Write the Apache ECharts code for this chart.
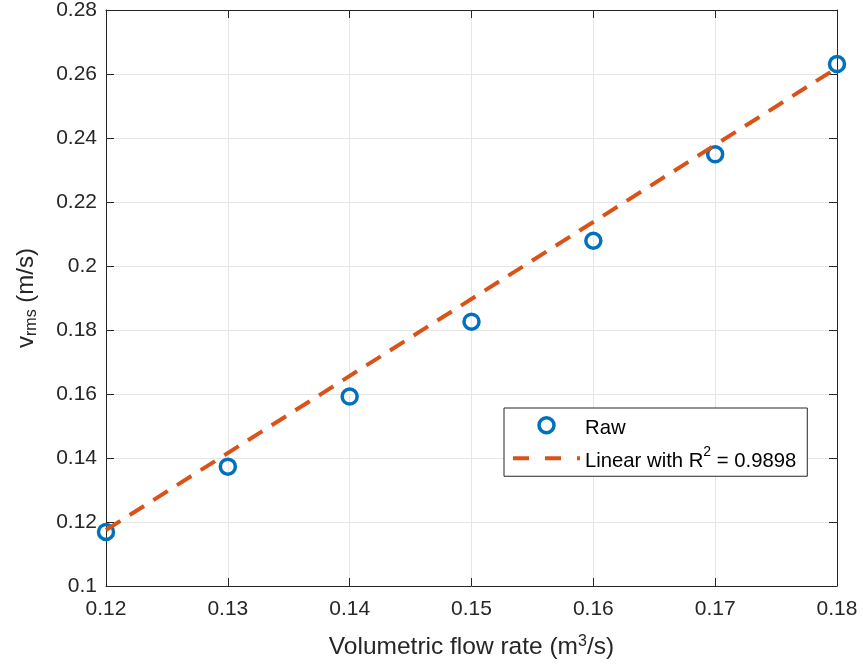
<!DOCTYPE html>
<html>
<head>
<meta charset="utf-8">
<script src="https://cdn.jsdelivr.net/npm/echarts@6/dist/echarts.min.js"></script>
<style>
  html, body { margin: 0; padding: 0; background: #fff; }
  #chart { width: 863px; height: 666px; }
</style>
</head>
<body>
<div id="chart"></div>
<script>
// Measured flow rates (m^3/s) and RMS velocities (m/s)
const flowRate = [0.12, 0.13, 0.14, 0.15, 0.16, 0.17, 0.18];
const vRms = [0.1169, 0.1373, 0.1592, 0.1826, 0.2079, 0.2349, 0.2631];

// End points of the linear fit
const fitX = [0.12, 0.18];
const fitY = [0.1175, 0.2619];

// Legend labels (rich text for the superscript)
const legendNames = ['Raw', 'Linear'];
const legendLabels = ['{a|Raw}', '{a|Linear with R}{sup|2}{a| = 0.9898}'];

const axisColor = '#262626';
const gridColor = '#e6e6e6';
const rawColor = '#0072BD';
const fitColor = '#D95319';
const font = 'Liberation Sans, Arial, Helvetica, sans-serif';

const fmt = v => String(+v.toFixed(2));

const chart = echarts.init(document.getElementById('chart'), null, { renderer: 'canvas' });

const tickCommon = {
  axisLine: { show: true, lineStyle: { color: axisColor, width: 1 } },
  axisTick: { show: true, inside: true, length: 8, lineStyle: { color: axisColor } }
};

chart.setOption({
  animation: false,
  backgroundColor: '#fff',
  grid: { left: 106, right: 26, top: 10, bottom: 80, containLabel: false, outerBoundsMode: 'none' },
  legend: {
    orient: 'vertical',
    left: 504,
    top: 408,
    padding: [8, 11, 3, 7],
    itemGap: 7,
    itemWidth: 67,
    itemHeight: 15,
    backgroundColor: '#fff',
    borderColor: axisColor,
    borderWidth: 1,
    borderRadius: 0,
    data: [
      { name: 'Raw', itemStyle: { color: 'rgba(0,0,0,0)', borderColor: rawColor, borderWidth: 3.5 } },
      { name: 'Linear', itemStyle: { opacity: 0 }, lineStyle: { color: fitColor, width: 4, type: [16, 16] } }
    ],
    formatter: name => legendLabels[legendNames.indexOf(name)],
    textStyle: {
      color: '#000',
      fontFamily: font,
      fontSize: 20,
      rich: {
        a: { fontSize: 20.3, fontFamily: font, color: '#000', lineHeight: 26, verticalAlign: 'bottom' },
        sup: { fontSize: 14, fontFamily: font, color: '#000', lineHeight: 14, verticalAlign: 'top', padding: [0, 0, 14, 0] }
      }
    }
  },
  xAxis: [
    Object.assign({
      type: 'value', position: 'bottom', min: 0.12, max: 0.18, interval: 0.01,
      axisLabel: { color: axisColor, fontFamily: font, fontSize: 21, margin: 13, formatter: fmt },
      splitLine: { show: true, lineStyle: { color: gridColor, width: 1 } },
      name: '{a|Volumetric flow rate (m}{sup|3}{a|/s)}',
      nameLocation: 'middle',
      nameGap: 48,
      nameTextStyle: {
        color: axisColor, fontFamily: font, fontSize: 24,
        rich: {
          a: { fontSize: 24.5, fontFamily: font, color: axisColor, lineHeight: 26, verticalAlign: 'bottom' },
          sup: { fontSize: 16, fontFamily: font, color: axisColor, lineHeight: 16, verticalAlign: 'top', padding: [0, 0, 15, 0] }
        }
      }
    }, tickCommon),
    Object.assign({
      type: 'value', position: 'top', min: 0.12, max: 0.18, interval: 0.01,
      axisLabel: { show: false }, splitLine: { show: false }
    }, tickCommon)
  ],
  yAxis: [
    Object.assign({
      type: 'value', position: 'left', min: 0.1, max: 0.28, interval: 0.02,
      axisLabel: { color: axisColor, fontFamily: font, fontSize: 21, margin: 9, formatter: fmt },
      splitLine: { show: true, lineStyle: { color: gridColor, width: 1 } },
      name: '{a|v}{sub|rms}{a| (m/s)}',
      nameLocation: 'middle',
      nameGap: 66,
      nameTextStyle: {
        color: axisColor, fontFamily: font, fontSize: 24,
        rich: {
          a: { fontSize: 24, fontFamily: font, color: axisColor, lineHeight: 26, verticalAlign: 'top' },
          sub: { fontSize: 16, fontFamily: font, color: axisColor, lineHeight: 16, verticalAlign: 'bottom', padding: [22, 0, 0, 0] }
        }
      }
    }, tickCommon),
    Object.assign({
      type: 'value', position: 'right', min: 0.1, max: 0.28, interval: 0.02,
      axisLabel: { show: false }, splitLine: { show: false }
    }, tickCommon)
  ],
  series: [
    {
      name: 'Raw',
      type: 'scatter',
      xAxisIndex: 0, yAxisIndex: 0,
      data: flowRate.map((x, i) => [x, vRms[i]]),
      symbol: 'circle',
      symbolSize: 15,
      clip: false,
      z: 3,
      itemStyle: { color: 'rgba(255,255,255,0)', borderColor: rawColor, borderWidth: 3.5, opacity: 1 }
    },
    {
      name: 'Linear',
      type: 'line',
      xAxisIndex: 0, yAxisIndex: 0,
      data: fitX.map((x, i) => [x, fitY[i]]),
      symbol: 'none',
      z: 4,
      lineStyle: { color: fitColor, width: 4, type: [17, 11] },
      itemStyle: { color: 'rgba(0,0,0,0)', borderWidth: 0 }
    }
  ]
});
</script>
</body>
</html>
